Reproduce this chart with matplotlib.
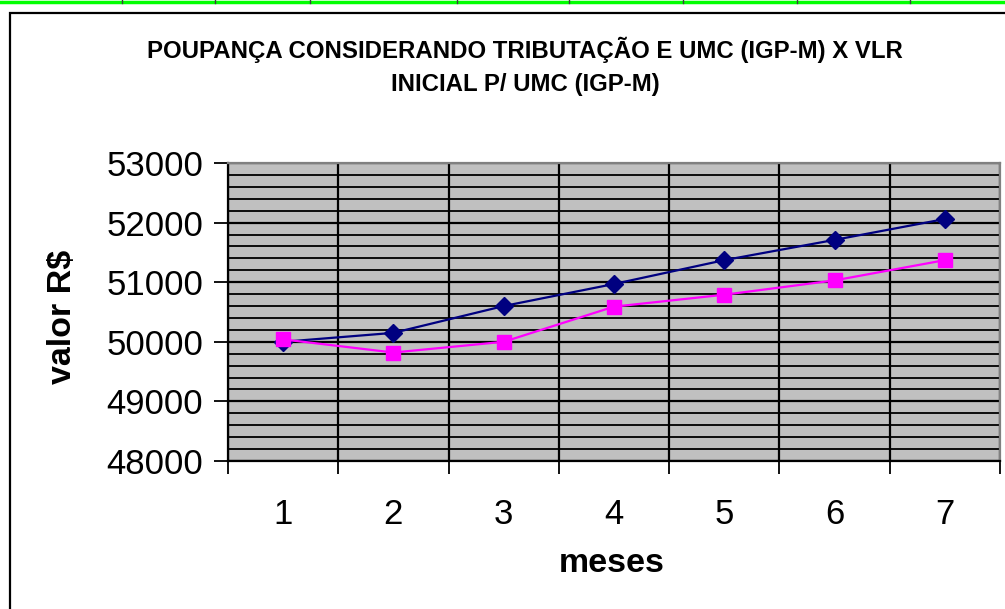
import matplotlib.pyplot as plt
from matplotlib.lines import Line2D
from matplotlib.patches import Rectangle
from matplotlib.ticker import MultipleLocator, FixedLocator, NullFormatter

plt.rcParams['font.family'] = ['Liberation Sans', 'DejaVu Sans']

# dados
meses = [1, 2, 3, 4, 5, 6, 7]
poupanca_trib_umc = [50000, 50150, 50600, 50970, 51370, 51710, 52060]
vlr_inicial_umc = [50040, 49820, 50000, 50590, 50790, 51030, 51370]

W, H = 1005, 609
fig = plt.figure(figsize=(W / 100, H / 100), dpi=100)

# faixa verde da planilha no topo
fig.add_artist(Line2D([0, 1], [1 - 1.5 / H, 1 - 1.5 / H], color='#00ff00', lw=2.5))
for xs in [122, 215, 310, 457, 569, 683, 797, 910]:
    fig.add_artist(Line2D([xs / W, xs / W], [1 - 3 / H, 1], color='#404040', lw=1))

# moldura do gráfico
fig.add_artist(Rectangle((10 / W, -0.05), 1.2, 1 - 13 / H + 0.05, fill=False,
                         edgecolor='black', lw=1.6))

ax = fig.add_axes([228 / W, 1 - 461 / H, (1000 - 228) / W, (461 - 163) / H])
ax.set_facecolor('#c0c0c0')

ax.plot(meses, poupanca_trib_umc, color='#000080', lw=1.6, marker='D',
        markersize=9, markerfacecolor='#000080', markeredgecolor='#000080', zorder=3)
ax.plot(meses, vlr_inicial_umc, color='#ff00ff', lw=1.6, marker='s',
        markersize=10, markerfacecolor='#ff00ff', markeredgecolor='#ff00ff', zorder=3)

ax.set_xlim(0.5, 7.5)
ax.set_ylim(48000, 53000)
ax.yaxis.set_major_locator(MultipleLocator(1000))
ax.yaxis.set_minor_locator(MultipleLocator(200))
ax.set_xticks(meses)
ax.xaxis.set_minor_locator(FixedLocator([m + 0.5 for m in [0] + meses]))
ax.xaxis.set_minor_formatter(NullFormatter())

ax.grid(True, which='major', axis='y', color='black', lw=1.6)
ax.grid(True, which='minor', axis='y', color='black', lw=1.3)
ax.grid(True, which='minor', axis='x', color='black', lw=1.6)
ax.set_axisbelow(True)

ax.tick_params(axis='y', which='major', direction='out', length=10, width=1.3,
               labelsize=25, pad=8)
ax.tick_params(axis='y', which='minor', length=0)
ax.tick_params(axis='x', which='major', length=0, labelsize=25, pad=27)
ax.tick_params(axis='x', which='minor', direction='out', length=9, width=1.3)

for s in ['top', 'right']:
    ax.spines[s].set_color('#808080')
    ax.spines[s].set_linewidth(1.6)
for s in ['left', 'bottom']:
    ax.spines[s].set_color('black')
    ax.spines[s].set_linewidth(1.6)

fig.text(525 / W, 1 - 50 / H, 'POUPANÇA CONSIDERANDO TRIBUTAÇÃO E UMC (IGP-M) X VLR',
         ha='center', va='center', fontsize=17.3, fontweight='bold')
fig.text(525 / W, 1 - 85 / H, 'INICIAL P/ UMC (IGP-M)',
         ha='center', va='center', fontsize=17.3, fontweight='bold')

fig.text(62 / W, 1 - 317 / H, 'valor R$', rotation=90, ha='center', va='center',
         fontsize=24.5, fontweight='bold')
fig.text(612 / W, 1 - 563 / H, 'meses', ha='center', va='center',
         fontsize=24.5, fontweight='bold')

fig.savefig('out.png', dpi=100)
